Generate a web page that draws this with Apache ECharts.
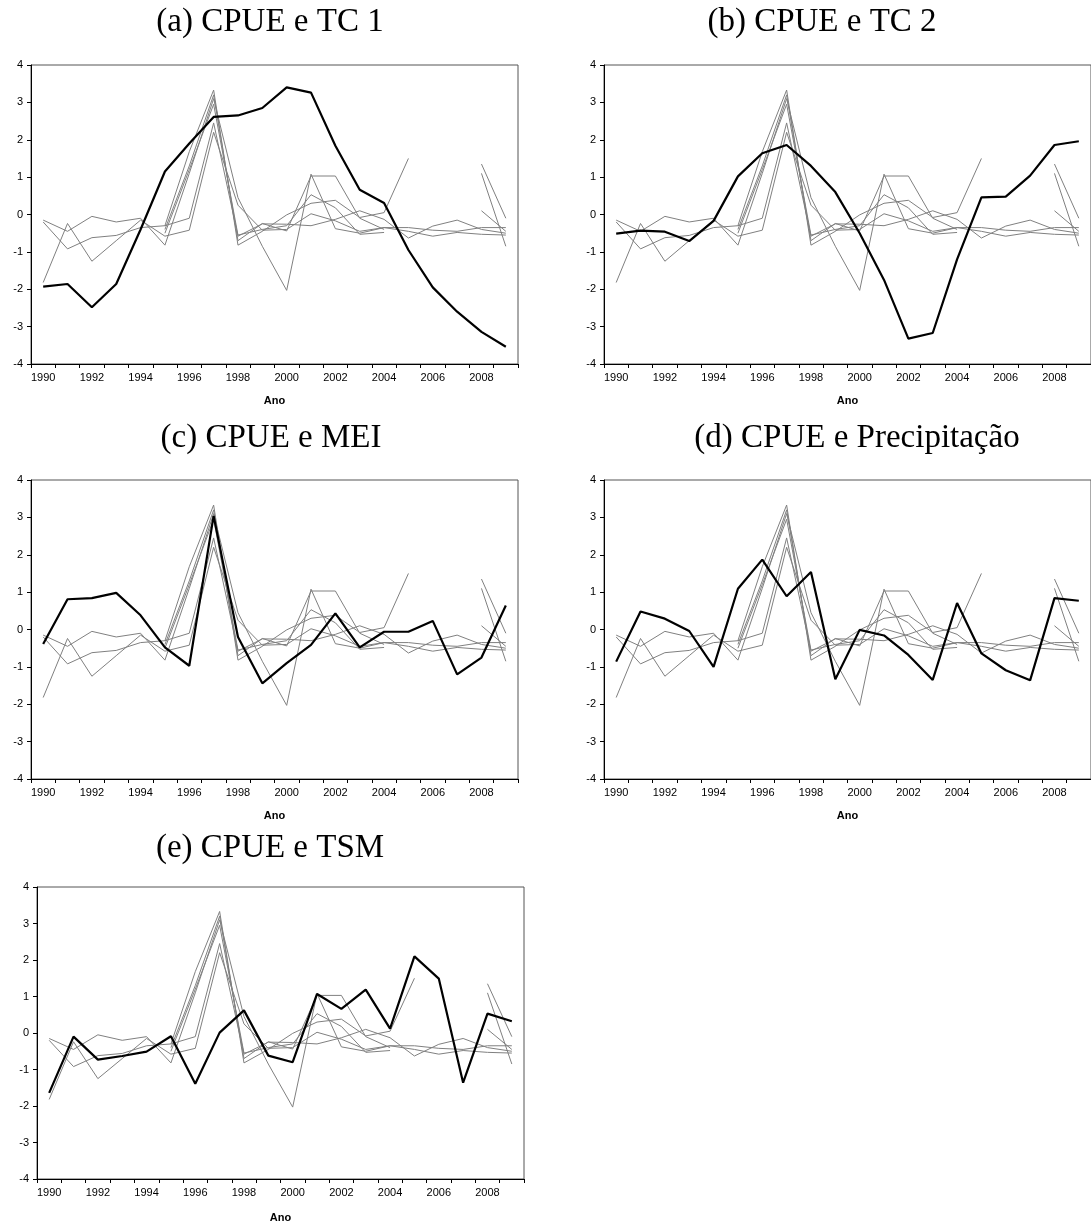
<!DOCTYPE html>
<html>
<head>
<meta charset="utf-8">
<script src="https://cdn.jsdelivr.net/npm/echarts@6/dist/echarts.min.js"></script>
<style>html,body{margin:0;padding:0;background:#fff}#c{width:1091px;height:1224px}</style>
</head>
<body>
<div id="c"></div>
<script>
const years = ['1990','1991','1992','1993','1994','1995','1996','1997','1998','1999','2000','2001','2002','2003','2004','2005','2006','2007','2008','2009'];
const yTicks = [-4,-3,-2,-1,0,1,2,3,4];

// CPUE series (grey), same in every panel; null = no data
const cpue1 = [-0.15,-0.45,-0.05,-0.2,-0.1,-0.82,1.1,3.1,0.45,-0.85,-2.03,1.08,-0.38,-0.5,-0.35,-0.35,-0.42,-0.45,-0.35,-0.35];
const cpue2 = [-0.2,-0.92,-0.62,-0.56,-0.35,-0.3,-0.1,2.45,-0.58,-0.25,-0.26,-0.3,-0.13,0.1,-0.13,-0.63,-0.31,-0.15,-0.4,-0.5];
const cpue3 = [-1.82,-0.24,-1.25,-0.7,-0.15,-0.58,-0.42,2.2,0.25,-0.42,-0.4,0.02,-0.17,-0.45,-0.35,-0.45,-0.58,-0.48,-0.53,-0.55];
const cpue4 = [null,null,null,null,null,-0.3,1.68,3.33,-0.82,-0.45,-0.01,0.3,0.38,-0.08,0.05,1.5,null,null,0.1,-0.45];
const cpue5 = [null,null,null,null,null,-0.4,1.3,3.2,-0.7,-0.24,-0.44,1.03,1.03,-0.1,-0.4,null,null,null,1.35,-0.1];
const cpue6 = [null,null,null,null,null,-0.5,1.2,2.95,-0.55,-0.4,-0.3,0.53,0.18,-0.53,-0.48,null,null,null,1.1,-0.85];

// Environmental variables (black)
const tc1 = [-1.93,-1.86,-2.48,-1.86,-0.4,1.15,1.9,2.61,2.65,2.85,3.4,3.26,1.84,0.66,0.31,-0.95,-1.95,-2.6,-3.14,-3.54];
const tc2 = [-0.51,-0.43,-0.46,-0.71,-0.17,1.02,1.64,1.86,1.3,0.6,-0.5,-1.75,-3.32,-3.17,-1.2,0.46,0.48,1.04,1.86,1.96];
const mei = [-0.39,0.81,0.84,0.98,0.38,-0.48,-0.97,3.04,-0.2,-1.44,-0.9,-0.41,0.43,-0.48,-0.06,-0.06,0.23,-1.2,-0.75,0.64];
const precip = [-0.86,0.48,0.29,-0.04,-1.0,1.09,1.87,0.89,1.54,-1.33,-0.01,-0.16,-0.68,-1.35,0.71,-0.64,-1.09,-1.36,0.84,0.77];
const tsm = [-1.64,-0.1,-0.73,-0.63,-0.51,-0.09,-1.39,0.01,0.62,-0.62,-0.8,1.07,0.66,1.19,0.12,2.1,1.49,-1.36,0.53,0.32];

const titles = ['(a) CPUE e TC 1','(b) CPUE e TC 2','(c) CPUE e MEI','(d) CPUE e Precipitação','(e) CPUE e TSM'];
const vars = [tc1, tc2, mei, precip, tsm];
const greys = [cpue1, cpue2, cpue3, cpue4, cpue5, cpue6];

const grids = [
  {left:31, top:65, width:487, height:299},
  {left:604, top:65, width:488, height:299},
  {left:31, top:480, width:487, height:299},
  {left:604, top:480, width:488, height:299},
  {left:37, top:887, width:487, height:296}
];
const titlePos = [[265,1],[817,1],[266,417],[852,417],[265,827]];

const chart = echarts.init(document.getElementById('c'), null, {renderer:'canvas'});
const option = {
  animation:false,
  backgroundColor:'#fff',
  title: titles.map((t,i)=>({text:t, left:titlePos[i][0], top:titlePos[i][1], textAlign:'center',
    textStyle:{fontFamily:'Liberation Serif', fontSize:33, fontWeight:'normal', color:'#000'}})),
  grid: grids.map(g=>Object.assign({show:true, borderColor:'#555', borderWidth:1, backgroundColor:'transparent'}, g)),
  xAxis: grids.map((g,i)=>({type:'category', gridIndex:i, data:years, boundaryGap:true,
    name:'Ano', nameLocation:'middle', nameGap:i===4?33:31,
    nameTextStyle:{fontFamily:'Liberation Sans', fontSize:11, fontWeight:'bold', color:'#000'},
    axisLine:{onZero:false, lineStyle:{color:'#000', width:1}},
    axisTick:{show:true, interval:0, length:4, lineStyle:{color:'#000'}},
    axisLabel:{interval:1, fontFamily:'Liberation Sans', fontSize:11, color:'#000', margin:8},
    splitLine:{show:false}})),
  yAxis: grids.map((g,i)=>({type:'value', gridIndex:i, min:yTicks[0], max:yTicks[yTicks.length-1], interval:1,
    axisLine:{show:true, onZero:false, lineStyle:{color:'#000', width:1}},
    axisTick:{show:true, length:4, lineStyle:{color:'#000'}},
    axisLabel:{fontFamily:'Liberation Sans', fontSize:11, color:'#000', margin:8},
    splitLine:{show:false}})),
  series: []
};
for (let i=0;i<5;i++){
  greys.forEach((d,k)=>option.series.push({type:'line', xAxisIndex:i, yAxisIndex:i, data:d, symbol:'none',
    connectNulls:false, lineStyle:{color:'#808080', width:1}, z:2, silent:true}));
  option.series.push({type:'line', xAxisIndex:i, yAxisIndex:i, data:vars[i], symbol:'none',
    lineStyle:{color:'#000', width:2.2}, z:3, silent:true});
}
chart.setOption(option);
</script>
</body>
</html>
